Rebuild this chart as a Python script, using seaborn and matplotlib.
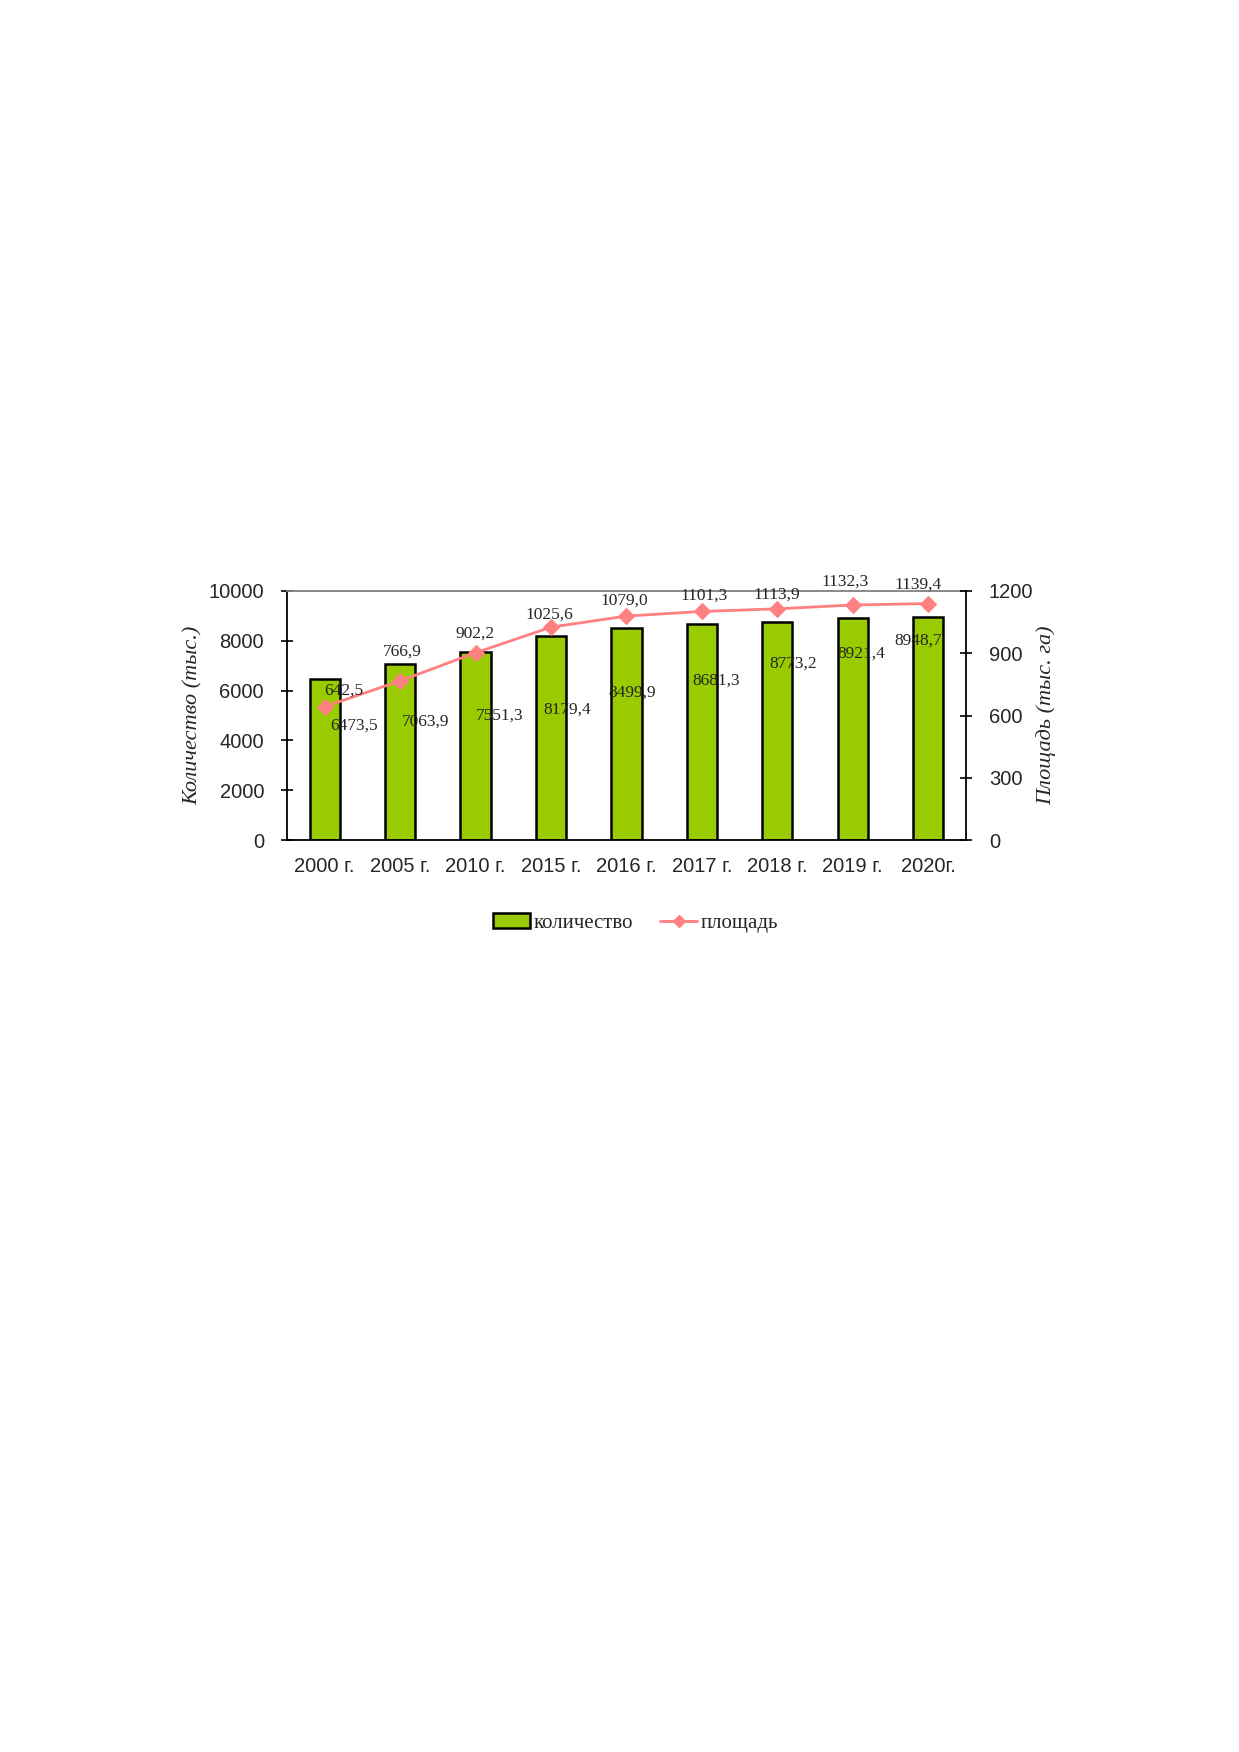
import numpy as np
import pandas as pd
import matplotlib
matplotlib.use("Agg")
import matplotlib.pyplot as plt
import seaborn as sns
from matplotlib.patches import Patch
from matplotlib.lines import Line2D

# данные
years = ["2000 г.", "2005 г.", "2010 г.", "2015 г.", "2016 г.",
         "2017 г.", "2018 г.", "2019 г.", "2020г."]
kolichestvo = [6473.5, 7063.9, 7551.3, 8179.4, 8499.9, 8681.3, 8773.2, 8921.4, 8948.7]
ploshchad = [642.5, 766.9, 902.2, 1025.6, 1079.0, 1101.3, 1113.9, 1132.3, 1139.4]

# смещения подписей (пиксели), как в исходном рисунке
bar_lbl_off = [(29, -47), (26, -58), (24, -64), (16, -73), (6, -64),
               (14, -57), (16, -42), (9, -36), (-10, -23)]
line_lbl_off = [(19, 16), (2, 29), (0, 19), (-2, 13), (-2, 15),
                (2, 16), (-1, 14), (-8, 23), (-10, 19)]

BAR_COLOR = "#99CC00"
LINE_COLOR = "#FF8080"

sns.set_style("white")
plt.rcParams["font.family"] = ["Liberation Sans", "DejaVu Sans"]

def fmt(v):
    return f"{v:.1f}".replace(".", ",")

df = pd.DataFrame({"year": years, "kol": kolichestvo, "pl": ploshchad})

fig = plt.figure(figsize=(12.39, 17.52), dpi=100)
ax = fig.add_axes([0.2316, 0.5205, 0.548, 0.1422])

sns.barplot(data=df, x="year", y="kol", color=BAR_COLOR, width=0.4,
            edgecolor="black", linewidth=1.8, saturation=1, ax=ax)
ax.set_ylim(0, 10000)
ax.set_xlim(-0.5, len(years) - 0.5)
ax.set_yticks(range(0, 10001, 2000))

ax2 = ax.twinx()
pos = np.arange(len(years))
sns.lineplot(x=pos, y=ploshchad, color=LINE_COLOR, marker="D", markersize=8,
             markeredgecolor=LINE_COLOR, linewidth=2, ax=ax2)
ax2.set_ylim(0, 1200)
ax2.set_yticks(range(0, 1201, 300))
ax2.set_xlim(-0.5, len(years) - 0.5)

# подписи данных
for i, v in enumerate(kolichestvo):
    ax.annotate(fmt(v), (i, v), xytext=bar_lbl_off[i], textcoords="offset pixels",
                ha="center", va="center", fontsize=12.5, family="Liberation Serif")
for i, v in enumerate(ploshchad):
    ax2.annotate(fmt(v), (i, v), xytext=line_lbl_off[i], textcoords="offset pixels",
                 ha="center", va="center", fontsize=12.5, family="Liberation Serif")

# оси
for s in ["left", "bottom"]:
    ax.spines[s].set_color("black")
    ax.spines[s].set_linewidth(1.3)
ax.spines["top"].set_color("#808080")
ax.spines["top"].set_linewidth(1.3)
ax.spines["right"].set_visible(False)
for s in ["left", "bottom", "top"]:
    ax2.spines[s].set_visible(False)
ax2.spines["right"].set_color("black")
ax2.spines["right"].set_linewidth(1.3)

ax.set_xticks(np.arange(len(years) + 1) - 0.5, minor=True)
ax.tick_params(axis="x", which="major", length=0, labelsize=14.5, pad=12)
ax.tick_params(axis="x", which="minor", direction="inout", length=9, width=1.2, color="black")
ax.tick_params(axis="y", direction="inout", length=9, width=1.2, color="black",
               labelsize=14.5, pad=12)
ax2.tick_params(axis="y", direction="inout", length=9, width=1.2, color="black",
                labelsize=14.5, pad=12)

ax.set_xlabel("")
ax.set_ylabel("Количество (тыс.)", fontsize=16, style="italic",
              family="Liberation Serif")
ax2.set_ylabel("Площадь (тыс. га)", fontsize=16, style="italic",
               family="Liberation Serif")
ax.yaxis.set_label_coords(-0.124, 0.5)
ax2.yaxis.set_label_coords(1.103, 0.5)

handles = [Patch(facecolor=BAR_COLOR, edgecolor="black", linewidth=1.8),
           Line2D([0], [0], color=LINE_COLOR, marker="D", markersize=6, linewidth=2)]
fig.legend(handles, ["количество", "площадь"], loc="center",
           bbox_to_anchor=(0.5127, 1 - 923 / 1752), ncol=2, frameon=False,
           prop={"family": "Liberation Serif", "size": 15},
           handlelength=1.8, handleheight=0.7, columnspacing=1.3, handletextpad=0.15)

fig.savefig("out.png", dpi=100)
